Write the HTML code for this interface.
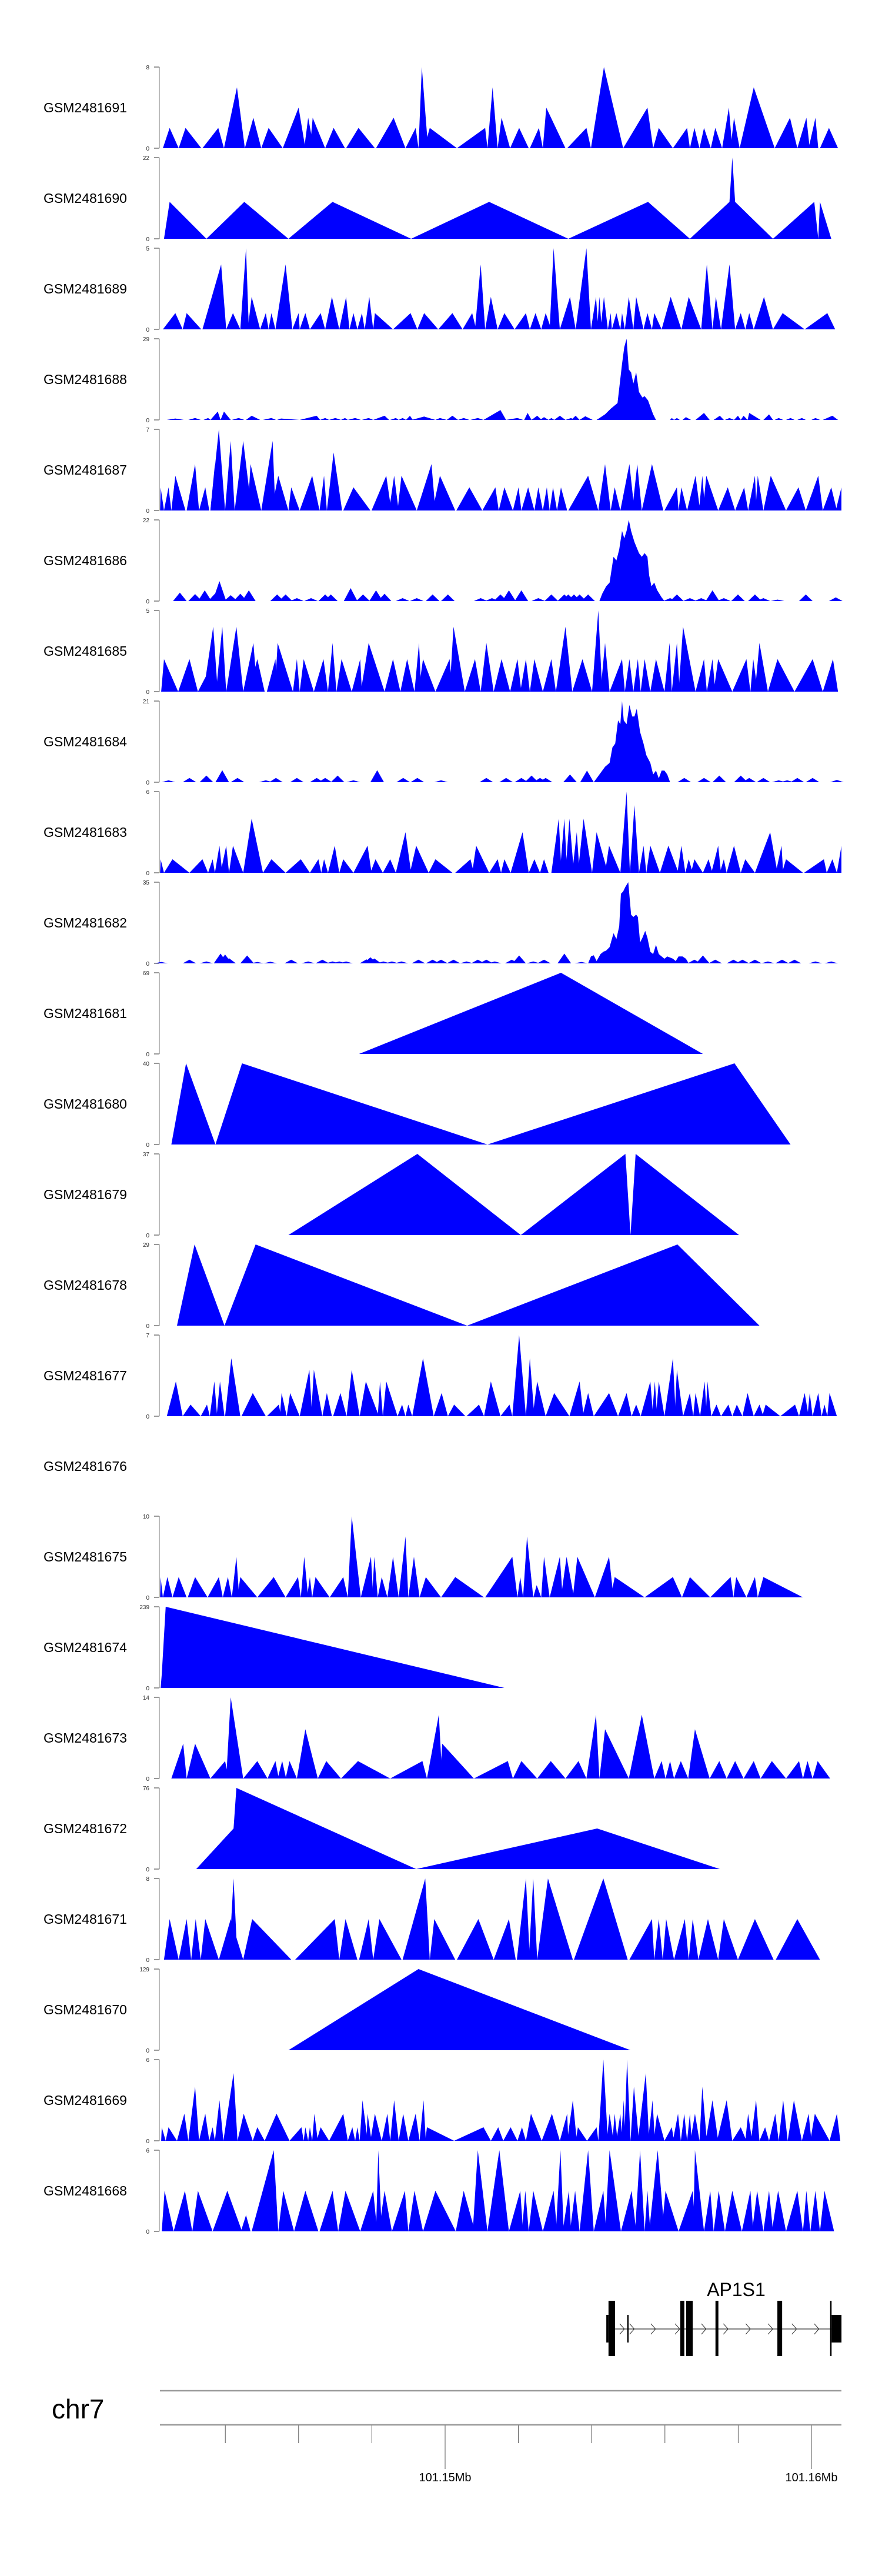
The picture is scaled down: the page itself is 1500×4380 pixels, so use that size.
<!DOCTYPE html>
<html><head><meta charset="utf-8"><style>
html,body{margin:0;padding:0;background:#fff}
svg{display:block}
text{font-family:"Liberation Sans",sans-serif}
</style></head>
<body>
<svg id="fig" width="1500" height="4380" viewBox="0 0 1500 4380" xmlns="http://www.w3.org/2000/svg"></svg>
<script>
// ---- data (bins: coverage sampled over the window; bin 288..1488) ----
const sampleNames = ["GSM2481691","GSM2481690","GSM2481689","GSM2481688","GSM2481687","GSM2481686","GSM2481685","GSM2481684","GSM2481683","GSM2481682","GSM2481681","GSM2481680","GSM2481679","GSM2481678","GSM2481677","GSM2481676","GSM2481675","GSM2481674","GSM2481673","GSM2481672","GSM2481671","GSM2481670","GSM2481669","GSM2481668"];
const yMax = [8,22,5,29,7,22,5,21,6,35,69,40,37,29,7,null,10,239,14,76,8,129,6,6];
// triangles [left, apex, right, value]
const tri1691 = [[288,300,316,2],[316,328,356,2],[358,386,396,2],[396,419,433,6],[433,448,462,3],[462,475,500,2],[500,528,540,4],[538,545,555,3],[548,553,575,3],[575,590,610,2],[612,634,663,2],[665,696,717,3],[717,735,740,2],[740,746,757,8],[750,760,808,2],[808,858,862,2],[862,871,880,6],[880,887,902,3],[902,918,935,2],[937,953,960,2],[960,966,1000,4],[1003,1037,1045,2],[1045,1068,1102,8],[1102,1145,1155,4],[1155,1165,1190,2],[1190,1215,1220,2],[1220,1228,1237,2],[1237,1245,1257,2],[1257,1265,1277,2],[1277,1289,1295,4],[1292,1298,1308,3],[1308,1333,1370,6],[1370,1397,1410,3],[1410,1426,1432,3],[1430,1442,1447,3],[1450,1466,1482,2]];
const shape1690 = [[290,0],[300,10],[365,0],[432,10],[510,0],[588,10],[727,0],[865,10],[1005,0],[1146,10],[1220,0],[1290,10],[1295,22],[1300,10],[1367,0],[1440,10],[1447,0],[1450,10],[1470,0]];
const tri1689 = [[288,310,323,1],[323,330,356,1],[358,391,400,4],[400,412,425,1],[425,435,440,5],[438,445,460,2],[460,470,475,1],[475,480,487,1],[487,505,517,4],[517,528,530,1],[530,540,548,1],[548,567,575,1],[575,587,600,2],[600,612,618,2],[618,625,632,1],[632,640,645,1],[645,653,660,2],[660,663,695,1],[695,726,738,1],[738,750,775,1],[775,800,818,1],[818,835,842,1],[840,850,858,4],[858,868,880,2],[880,892,910,1],[910,930,937,1],[937,947,957,1],[957,965,975,1],[972,979,990,5],[990,1008,1018,2],[1018,1037,1045,5],[1045,1054,1058,2],[1056,1060,1064,2],[1062,1068,1075,2],[1075,1080,1082,1],[1082,1090,1097,1],[1097,1100,1105,1],[1105,1112,1120,2],[1120,1125,1138,2],[1138,1145,1153,1],[1153,1157,1170,1],[1170,1186,1205,2],[1205,1218,1240,2],[1240,1250,1260,4],[1260,1266,1275,2],[1275,1290,1300,4],[1300,1310,1318,1],[1318,1325,1333,1],[1333,1351,1367,2],[1367,1384,1423,1],[1423,1463,1477,1]];
const tri1688 = [[295,310,325,0.5],[333,345,355,0.7],[360,368,372,0.7],[372,385,390,3],[390,396,408,3],[410,422,432,0.7],[435,445,460,1.5],[465,480,488,0.7],[490,497,530,0.5],[530,560,566,1.5],[566,575,582,0.7],[582,593,603,0.7],[603,610,615,0.7],[615,628,638,0.7],[640,652,660,0.7],[660,680,688,1.5],[690,700,705,0.7],[705,712,718,0.7],[718,725,730,1.5],[728,750,770,1.2],[770,778,790,0.7],[790,800,810,1.5],[810,820,830,0.7],[832,845,855,0.7],[855,885,895,3.5],[895,915,925,0.7],[927,933,940,2.5],[940,950,958,1.5],[955,962,970,1],[970,975,980,0.7],[980,990,1000,1.5],[1000,1010,1015,0.7],[1010,1018,1025,1.5],[1025,1035,1048,1.3],[1185,1188,1192,0.7],[1192,1197,1202,0.7],[1207,1213,1222,1],[1230,1245,1255,2.5],[1262,1273,1280,1.5],[1282,1290,1298,0.7],[1298,1305,1310,1.5],[1310,1315,1322,1.5],[1322,1325,1345,2.5],[1350,1360,1367,2],[1370,1377,1385,0.7],[1390,1398,1405,0.7],[1410,1418,1425,0.7],[1435,1442,1450,0.7],[1455,1472,1482,1.5]];
const shape1688 = [[1055,0],[1070,2],[1080,4],[1092,6],[1100,20],[1104,26],[1108,29],[1112,18],[1116,17],[1120,13],[1125,17],[1130,10],[1136,8],[1140,8.5],[1146,7],[1155,2],[1160,0]];
const tri1687 = [[283,284,290,2],[290,298,303,2],[303,310,328,3],[330,345,352,4],[352,363,370,2],[372,380,386,4],[372,387,398,7],[398,408,415,6],[415,430,445,6],[438,443,462,4],[462,482,487,6],[480,492,510,3],[510,515,530,2],[530,552,565,3],[565,573,578,3],[578,590,605,5],[607,625,655,2],[657,683,692,3],[688,697,705,3],[703,710,737,3],[737,763,770,4],[765,778,805,3],[807,830,853,2],[853,876,882,2],[882,892,907,2],[907,917,922,2],[922,934,945,2],[945,952,960,2],[960,967,972,2],[972,978,985,2],[985,992,1003,2],[1005,1040,1058,3],[1058,1070,1080,4],[1080,1087,1097,2],[1097,1113,1122,4],[1118,1127,1135,4],[1135,1153,1173,4],[1175,1197,1200,2],[1200,1205,1215,2],[1215,1230,1238,3],[1236,1242,1247,3],[1243,1249,1270,3],[1270,1287,1300,2],[1300,1316,1323,2],[1323,1335,1338,3],[1336,1340,1350,3],[1350,1363,1390,3],[1390,1412,1425,2],[1425,1447,1455,3],[1455,1470,1480,2],[1478,1488,1488,2]];
const bumps1686 = [[318,2.3],[345,1.9],[362,2.9],[380,2],[388,5.4],[408,1.6],[425,2],[440,2.9],[490,1.8],[505,1.8],[525,0.8],[550,0.8],[575,1.8],[585,1.8],[620,3.5],[642,1.8],[665,2.9],[680,2],[712,0.8],[737,0.8],[765,1.8],[792,1.8],[850,0.8],[870,0.8],[885,1.8],[900,2.9],[922,2.9],[952,0.8],[975,1.8],[998,1.8],[1005,1.8],[1015,1.8],[1025,1.8],[1040,1.8],[1185,0.8],[1197,1.8],[1220,0.8],[1240,0.8],[1260,2.9],[1280,0.8],[1305,1.8],[1335,1.8],[1350,0.8],[1375,0.4],[1425,1.8],[1478,1.0]];
const shape1686 = [[1060,0],[1065,2],[1072,4],[1078,5],[1085,12],[1090,11],[1095,14],[1100,19],[1104,17],[1108,19],[1112,22],[1116,19],[1122,16],[1130,13],[1135,12],[1140,13],[1145,12],[1148,7],[1152,4],[1157,5],[1162,3],[1170,1],[1175,0]];
const tri1685 = [[285,290,315,2],[315,335,350,2],[350,365,370,1],[360,377,385,4],[382,393,400,4],[400,418,430,4],[430,448,455,3],[440,455,468,2],[472,487,490,2],[486,491,518,3],[518,525,530,2],[530,537,555,2],[555,572,580,2],[580,588,595,3],[595,604,622,2],[622,637,640,2],[638,652,680,3],[680,695,708,2],[708,720,733,2],[733,741,745,3],[740,748,770,2],[770,795,800,2],[795,802,822,4],[822,840,850,2],[850,860,873,3],[873,887,902,2],[902,915,922,2],[920,930,937,2],[937,945,960,2],[960,975,983,2],[983,1000,1012,4],[1012,1030,1047,2],[1047,1058,1065,5],[1062,1070,1078,3],[1078,1100,1105,2],[1105,1113,1120,2],[1120,1128,1133,2],[1133,1140,1150,2],[1150,1160,1175,2],[1175,1184,1188,3],[1188,1197,1202,3],[1200,1208,1230,4],[1230,1245,1250,2],[1250,1260,1265,2],[1262,1270,1295,2],[1295,1320,1327,2],[1327,1332,1340,2],[1335,1343,1358,3],[1358,1375,1405,2],[1405,1437,1455,2],[1455,1473,1482,2]];
const bumps1684 = [[298,0.5],[335,1.1],[365,1.7],[393,3.1],[420,1.1],[470,0.5],[488,1.1],[525,1.1],[560,1.1],[575,1.1],[597,1.7],[625,0.5],[667,3.1],[713,1.1],[738,1.1],[780,0.5],[860,1.1],[895,1.1],[922,1.1],[940,1.7],[955,1.1],[965,1.1],[1008,2],[1038,3],[1210,1.1],[1245,1.1],[1272,1.7],[1310,1.7],[1325,1.1],[1350,1.1],[1377,0.5],[1392,0.5],[1410,1.1],[1437,1.1],[1480,0.6]];
const shape1684 = [[1050,0],[1070,4],[1078,5],[1083,9],[1088,10],[1093,16],[1097,15],[1100,21],[1103,16],[1108,15],[1113,20],[1118,17],[1122,17],[1126,19],[1132,13],[1138,10],[1143,7],[1150,5],[1155,2],[1160,3],[1165,1],[1170,3],[1175,3],[1180,2],[1185,0]];
const tri1683 = [[283,284,290,1],[290,305,335,1],[335,358,368,1],[368,376,380,1],[380,388,393,2],[390,400,405,2],[405,412,430,2],[430,445,465,4],[465,480,505,1],[505,532,548,1],[548,563,568,1],[568,573,580,1],[580,592,600,2],[600,607,625,1],[625,650,657,2],[655,664,677,1],[677,690,700,1],[700,717,727,3],[725,736,758,2],[758,770,800,1],[805,832,838,1],[835,842,865,2],[865,880,886,1],[886,892,903,1],[903,924,935,3],[935,945,955,1],[955,962,970,1],[975,988,993,4],[990,998,1003,4],[1000,1007,1015,4],[1012,1020,1025,3],[1022,1032,1047,4],[1047,1055,1075,3],[1070,1077,1097,2],[1097,1108,1114,6],[1114,1122,1130,5],[1130,1138,1143,2],[1143,1150,1167,2],[1167,1182,1200,2],[1198,1205,1212,2],[1212,1218,1225,1],[1222,1228,1243,1],[1243,1253,1260,1],[1258,1270,1275,2],[1273,1280,1285,1],[1285,1298,1310,2],[1310,1318,1335,1],[1335,1362,1375,3],[1372,1382,1385,2],[1383,1390,1420,1],[1422,1457,1462,1],[1462,1472,1480,1],[1480,1488,1488,2]];
const bumps1682 = [[285,0.6],[335,1.6],[365,0.8],[390,4.2],[398,3.8],[405,2.2],[437,3.4],[455,0.6],[478,0.7],[515,1.6],[545,0.8],[570,1.6],[588,0.8],[600,0.8],[612,0.8],[648,1.7],[655,2.6],[662,2.1],[678,0.8],[693,0.8],[710,0.8],[740,1.6],[765,1.6],[780,1.6],[802,1.6],[825,0.8],[845,1.6],[860,1.6],[875,0.8],[905,1.6],[918,3.4],[943,0.8],[962,1.6],[998,4.2],[1028,0.6],[1228,1.6],[1243,3.4],[1265,1.6],[1297,1.6],[1313,1.6],[1335,1.6],[1358,0.8],[1383,1.6],[1405,1.6],[1442,0.8],[1470,0.8]];
const shape1682 = [[1040,0],[1045,3],[1050,3.5],[1055,1],[1062,4],[1067,5],[1072,5.5],[1078,7],[1085,13],[1090,10.5],[1095,16],[1098,30],[1102,31],[1106,33],[1111,35],[1116,21],[1120,20],[1125,21],[1128,20],[1132,9],[1136,11],[1141,14],[1145,11],[1150,5],[1155,4],[1160,8],[1165,4],[1170,3],[1175,2],[1180,3],[1190,2],[1195,1],[1200,3],[1207,3],[1213,2],[1218,0]];
const shape1681 = [[635,0],[992,69],[1243,0]];
const shape1680 = [[303,0],[329,40],[381,0],[428,40],[862,0],[1299,40],[1398,0]];
const shape1679 = [[510,0],[738,37],[921,0],[1106,37],[1115,0],[1124,37],[1307,0]];
const shape1678 = [[313,0],[344,29],[397,0],[452,29],[826,0],[1198,29],[1343,0]];
const tri1677 = [[295,311,323,3],[323,337,355,1],[355,366,371,1],[371,379,384,3],[383,389,397,3],[398,409,425,5],[427,447,470,2],[472,493,497,1],[495,498,507,2],[507,513,530,2],[530,547,552,4],[550,555,570,4],[570,578,587,2],[589,602,613,2],[613,622,636,4],[636,647,670,3],[668,672,677,3],[677,683,703,3],[703,711,717,1],[717,722,729,1],[729,748,767,5],[767,781,792,2],[792,803,823,1],[825,847,856,1],[856,868,885,3],[885,901,906,1],[906,918,930,7],[930,937,945,5],[942,950,965,3],[965,980,1007,2],[1007,1025,1032,3],[1030,1040,1050,2],[1050,1077,1093,2],[1093,1108,1117,2],[1117,1125,1133,1],[1133,1150,1155,3],[1153,1158,1162,3],[1160,1165,1175,3],[1175,1190,1195,5],[1193,1197,1208,4],[1208,1220,1226,2],[1226,1230,1238,2],[1238,1246,1250,3],[1248,1251,1258,3],[1258,1267,1275,1],[1275,1288,1295,1],[1295,1303,1313,1],[1313,1322,1333,2],[1333,1343,1350,1],[1348,1354,1380,1],[1380,1406,1413,1],[1413,1423,1430,2],[1428,1432,1437,2],[1437,1447,1453,2],[1453,1458,1463,1],[1463,1467,1480,2]];
const tri1675 = [[283,284,288,2.5],[288,296,305,2.5],[305,316,330,2.5],[332,345,367,2.5],[367,387,394,2.5],[394,403,410,2.5],[410,418,423,5],[420,425,455,2.5],[455,484,505,2.5],[505,527,532,2.5],[532,538,545,5],[543,548,552,2.5],[552,558,583,2.5],[583,607,615,2.5],[615,622,638,10],[638,656,660,5],[658,662,668,5],[668,675,685,2.5],[685,695,705,5],[705,717,722,7.5],[722,732,742,5],[742,753,780,2.5],[780,805,856,2.5],[858,906,915,5],[915,920,925,2.5],[925,932,943,7.5],[943,949,957,1.5],[957,962,972,5],[972,990,995,5],[992,1002,1015,5],[1013,1021,1052,5],[1052,1077,1085,5],[1080,1087,1140,2.5],[1140,1190,1206,2.5],[1206,1220,1256,2.5],[1256,1292,1297,2.5],[1297,1302,1320,2.5],[1320,1335,1340,2.5],[1340,1350,1420,2.5]];
const shape1674 = [[284,0],[286,40],[293,239],[892,0]];
const tri1673 = [[303,324,330,6],[330,345,372,6],[372,398,404,3],[400,408,430,14],[430,455,473,3],[473,487,493,3],[491,499,506,3],[505,512,525,3],[525,540,562,8.5],[562,577,603,3],[603,633,690,3],[690,747,755,3],[755,776,782,11],[778,782,838,6],[838,898,907,3],[907,922,950,3],[950,974,1000,3],[1000,1023,1037,3],[1037,1054,1060,11],[1060,1070,1112,8.5],[1112,1135,1157,11],[1157,1170,1177,3],[1177,1185,1192,3],[1192,1204,1217,3],[1217,1229,1255,8.5],[1255,1272,1285,3],[1285,1300,1315,3],[1315,1333,1345,3],[1345,1365,1390,3],[1390,1413,1420,3],[1420,1428,1437,3],[1437,1446,1468,3]];
const shape1672 = [[347,0],[413,38],[418,76],[736,0],[1056,38],[1273,0]];
const tri1671 = [[290,300,316,4],[316,330,338,4],[338,346,355,4],[355,363,387,4],[387,408,430,4],[405,413,420,8],[430,446,515,4],[522,592,600,4],[600,611,632,4],[635,652,660,4],[660,671,710,4],[712,752,760,8],[760,768,805,4],[808,846,873,4],[873,900,912,4],[914,930,937,8],[935,943,950,8],[950,969,1013,8],[1015,1067,1110,8],[1113,1153,1157,4],[1157,1165,1172,4],[1172,1178,1192,4],[1192,1211,1218,4],[1218,1225,1235,4],[1235,1252,1270,4],[1270,1280,1305,4],[1305,1335,1368,4],[1372,1410,1450,4]];
const shape1670 = [[510,0],[740,129],[1115,0]];
const tri1669 = [[285,286,293,1],[293,298,313,1],[313,326,333,2],[333,345,352,4],[352,363,370,2],[370,376,380,1],[380,388,395,3],[395,413,420,5],[420,431,447,2],[447,455,468,1],[468,489,512,2],[512,533,537,1],[537,540,545,1],[545,548,552,1],[552,556,562,2],[560,567,582,1],[582,607,615,2],[615,623,628,1],[628,632,636,1],[636,641,650,3],[648,650,657,2],[655,663,675,2],[675,685,690,2],[690,697,705,3],[705,713,722,2],[722,735,742,2],[742,749,753,3],[752,755,803,1],[803,855,868,1],[868,881,890,1],[890,903,915,1],[915,923,930,1],[930,939,958,2],[958,976,990,2],[990,1003,1005,2],[1003,1013,1020,3],[1018,1022,1038,1],[1038,1055,1058,1],[1058,1067,1075,6],[1073,1078,1085,2],[1083,1087,1092,2],[1090,1097,1100,2],[1098,1103,1106,3],[1104,1109,1115,6],[1115,1121,1130,4],[1128,1142,1148,5],[1146,1154,1158,3],[1156,1162,1175,2],[1175,1188,1192,1],[1190,1199,1204,2],[1204,1210,1215,2],[1215,1220,1223,2],[1221,1229,1237,2],[1237,1242,1250,4],[1248,1260,1270,3],[1268,1285,1295,3],[1295,1310,1320,1],[1318,1323,1330,2],[1328,1337,1343,3],[1343,1353,1360,1],[1360,1371,1377,2],[1377,1385,1393,3],[1393,1404,1418,3],[1418,1430,1435,2],[1433,1441,1467,2],[1467,1480,1486,2]];
const tri1668 = [[286,291,307,3],[307,327,340,3],[340,350,376,3],[376,402,428,3],[426,435,443,1.2],[445,484,492,6],[492,501,520,3],[520,540,563,3],[565,588,598,3],[598,611,637,3],[637,660,667,3],[665,669,675,6],[670,680,693,3],[693,716,722,3],[722,733,748,3],[748,770,806,3],[806,820,840,3],[836,845,862,6],[862,883,900,6],[900,920,925,3],[923,929,935,3],[935,943,960,3],[960,979,985,3],[983,991,997,6],[995,1006,1010,3],[1008,1017,1025,3],[1025,1040,1050,6],[1050,1067,1072,3],[1070,1078,1098,6],[1098,1117,1125,3],[1123,1132,1140,6],[1140,1145,1150,3],[1148,1163,1175,6],[1170,1177,1200,3],[1200,1225,1230,3],[1226,1229,1245,6],[1245,1256,1262,3],[1262,1271,1282,3],[1282,1295,1312,3],[1312,1327,1332,3],[1330,1339,1350,3],[1350,1360,1367,3],[1365,1376,1390,3],[1390,1410,1420,3],[1420,1426,1433,3],[1433,1442,1450,3],[1450,1458,1475,3]];
const trackTris = [tri1691,null,tri1689,tri1688,tri1687,null,tri1685,null,tri1683,null,null,null,null,null,tri1677,null,tri1675,null,tri1673,null,tri1671,null,tri1669,tri1668];
const trackShapes = [null,shape1690,null,shape1688,null,shape1686,null,shape1684,null,shape1682,shape1681,shape1680,shape1679,shape1678,null,null,null,shape1674,null,shape1672,null,shape1670,null,null];
const trackBumps = [null,null,null,null,null,bumps1686,null,bumps1684,null,bumps1682,null,null,null,null,null,null,null,null,null,null,null,null,null,null];
// genome axis (kb offset from 101.14 Mb)
const tickKb = [4,6,8,10,12,14,16,18,20];
const tickLabels = {10:"101.15Mb",20:"101.16Mb"};
// gene model AP1S1 (kb offset from 101.14 Mb)
const exonsTall = [[14.46,14.64],[16.42,16.53],[16.58,16.76],[17.38,17.46],[19.07,19.20],[20.51,20.55]];
const exonsUtr = [[14.40,14.46],[14.97,15.01],[20.55,20.82]];
const geneSpan = [14.64,20.55];
const arrowKb = [14.83,15.10,15.68,16.34,17.06,17.66,18.27,18.88,19.53,20.14];

// ---- scales ----
const NS="http://www.w3.org/2000/svg";
const svg=document.getElementById('fig');
const BIN0=288, BIN1=1488, PX0=277, PX1=1431;
function xb(b){return PX0+(b-BIN0)*(PX1-PX0)/(BIN1-BIN0);}
const KB_PX=62.3, KB10_PX=757;
function xk(k){return KB10_PX+(k-10)*KB_PX;}
const TOP0=114, PITCH=154, H=138;
function mk(tag,attrs,parent){const e=document.createElementNS(NS,tag);for(const k in attrs)e.setAttribute(k,attrs[k]);(parent||svg).appendChild(e);return e;}
const BUMP_HW=12;

sampleNames.forEach((name,i)=>{
  const top=TOP0+PITCH*i, zero=top+H, max=yMax[i];
  const g=mk('g',{});
  
  
  const lab=mk('text',{x:74,y:top+H/2+8,'font-size':23,fill:'#000'},g);
  lab.textContent=name;
  
  
  if(max==null) return;
  const yv=v=>zero-v/max*H;
  const ax=mk('line',{x1:271,y1:top,x2:271,y2:zero,stroke:'#777','stroke-width':1},g);
  
  
  [[max,top],[0,zero]].forEach(([v,y])=>{
    const t=mk('line',{x1:262,y1:y,x2:271,y2:y,stroke:'#777','stroke-width':1.5},g);
    
    
    const tl=mk('text',{x:254,y:y+4,'font-size':10,'text-anchor':'end',fill:'#333'},g);
    tl.textContent=v;
    
    
  });
  const polys=[];
  (trackTris[i]||[]).forEach(t=>polys.push([[t[0],0],[t[1],t[3]],[t[2],0]]));
  (trackBumps[i]||[]).forEach(b=>polys.push([[b[0]-BUMP_HW,0],[b[0],b[1]],[b[0]+BUMP_HW,0]]));
  if(trackShapes[i]) polys.push(trackShapes[i]);
  polys.forEach(p=>{
    const pts=p.map(q=>xb(q[0]).toFixed(1)+','+yv(q[1]).toFixed(1));
    pts.unshift(xb(p[0][0]).toFixed(1)+','+zero);
    pts.push(xb(p[p.length-1][0]).toFixed(1)+','+zero);
    const pg=mk('polygon',{points:pts.join(' '),fill:'#0000FF'},g);
    
    
  });
});

// ---- gene track ----
const gg=mk('g',{});


const gl=mk('text',{x:1252,y:3904,'font-size':32,'text-anchor':'middle',fill:'#000'},gg);
gl.textContent='AP1S1';


const intr=mk('line',{x1:xk(geneSpan[0]),y1:3960,x2:xk(geneSpan[1]),y2:3960,stroke:'#000','stroke-width':1},gg);


arrowKb.forEach(k=>{
  const a=mk('polyline',{points:`${xk(k)-4},3951 ${xk(k)+4},3960 ${xk(k)-4},3969`,fill:'none',stroke:'#333','stroke-width':1},gg);
  
  
});
exonsUtr.forEach(e=>{
  const r=mk('rect',{x:xk(e[0]),y:3936,width:Math.max(2,xk(e[1])-xk(e[0])),height:47,fill:'#000'},gg);
  
  
});
exonsTall.forEach(e=>{
  const r=mk('rect',{x:xk(e[0]),y:3912,width:Math.max(2,xk(e[1])-xk(e[0])),height:94,fill:'#000'},gg);
  
  
});

// ---- genome axis ----
const ag=mk('g',{});


const chr=mk('text',{x:88,y:4112,'font-size':46,fill:'#000'},ag);
chr.textContent='chr7';


[4065,4123].forEach(y=>{
  const l=mk('line',{x1:272,y1:y,x2:1431,y2:y,stroke:'#999','stroke-width':2.5},ag);
  
  
});
tickKb.forEach(k=>{
  const major=tickLabels[k]!==undefined;
  const t=mk('line',{x1:xk(k),y1:4124,x2:xk(k),y2:major?4198:4154,stroke:'#555','stroke-width':1},ag);
  
  
  if(major){
    const tl=mk('text',{x:xk(k),y:4219,'font-size':20,'text-anchor':'middle',fill:'#000'},ag);
    tl.textContent=tickLabels[k];
    
    
  }
});
</script>
</body></html>
